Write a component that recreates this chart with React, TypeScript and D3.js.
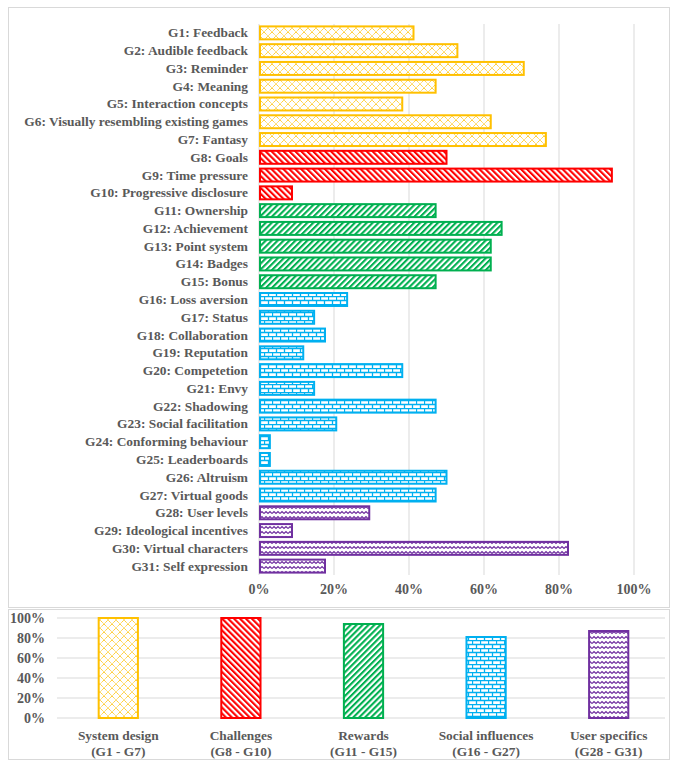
import React, { useEffect } from "react";
import * as d3 from "d3";

// guideline items, top chart
const labels = [
  "G1: Feedback", "G2: Audible feedback", "G3: Reminder", "G4: Meaning",
  "G5: Interaction concepts", "G6: Visually resembling existing games", "G7: Fantasy",
  "G8: Goals", "G9: Time pressure", "G10: Progressive disclosure",
  "G11: Ownership", "G12: Achievement", "G13: Point system", "G14: Badges", "G15: Bonus",
  "G16: Loss aversion", "G17: Status", "G18: Collaboration", "G19: Reputation",
  "G20: Competetion", "G21: Envy", "G22: Shadowing", "G23: Social facilitation",
  "G24: Conforming behaviour", "G25: Leaderboards", "G26: Altruism", "G27: Virtual goods",
  "G28: User levels", "G29: Ideological incentives", "G30: Virtual characters", "G31: Self expression",
];
const values = [
  41.2, 52.9, 70.6, 47.1, 38.2, 61.8, 76.5,
  50.0, 94.1, 8.8,
  47.1, 64.7, 61.8, 61.8, 47.1,
  23.5, 14.7, 17.6, 11.8, 38.2, 14.7, 47.1, 20.6, 2.9, 2.9, 50.0, 47.1,
  29.4, 8.8, 82.4, 17.6,
];
// which group each item belongs to
const groupOf = [
  0, 0, 0, 0, 0, 0, 0,
  1, 1, 1,
  2, 2, 2, 2, 2,
  3, 3, 3, 3, 3, 3, 3, 3, 3, 3, 3, 3,
  4, 4, 4, 4,
];
const xTicks = [0, 20, 40, 60, 80, 100];

// group summary, bottom chart
const groups = ["System design", "Challenges", "Rewards", "Social influences", "User specifics"];
const groupRanges = ["(G1 - G7)", "(G8 - G10)", "(G11 - G15)", "(G16 - G27)", "(G28 - G31)"];
const groupValues = [100, 100, 94, 81, 87];
const yTicks = [0, 20, 40, 60, 80, 100];

const colors = ["#FFC000", "#FF0000", "#00B050", "#00B0F0", "#7030A0"];
const patIds = ["pDiamond", "pDown", "pUp", "pBrick", "pWave"];

const textCol = "#595959";
const gridCol = "#d9d9d9";
const font = "Liberation Serif";

export default function App() {
  useEffect(() => {
    document.body.style.margin = "0";
  }, []);

  const W = 677;
  const H = 767;

  const x = d3.scaleLinear().domain([0, 100]).range([259, 634]);
  const y = d3.scaleBand().domain(labels).range([24, 575]).paddingInner(0.27).paddingOuter(0.135);

  const bx = d3.scaleBand().domain(groups).range([57, 670]).paddingInner(0.68).paddingOuter(0.34);
  const by = d3.scaleLinear().domain([0, 100]).range([718, 618]);

  return (
    <svg width={W} height={H} style={{ display: "block", background: "#fff" }}>
      <defs>
        <pattern id="pDiamond" width="8" height="8" patternUnits="userSpaceOnUse">
          <rect width="8" height="8" fill="#fff" />
          <path d="M0,0 L8,8 M8,0 L0,8" stroke={colors[0]} strokeWidth="0.9" strokeDasharray="1.2,0.6" />
        </pattern>
        <pattern id="pDown" width="4.2" height="4.2" patternUnits="userSpaceOnUse" patternTransform="rotate(-45)">
          <rect width="4.2" height="4.2" fill="#fff" />
          <rect width="2.1" height="4.2" fill={colors[1]} />
        </pattern>
        <pattern id="pUp" width="4.2" height="4.2" patternUnits="userSpaceOnUse" patternTransform="rotate(45)">
          <rect width="4.2" height="4.2" fill="#fff" />
          <rect width="2.1" height="4.2" fill={colors[2]} />
        </pattern>
        <pattern id="pBrick" width="8" height="8" patternUnits="userSpaceOnUse">
          <rect width="8" height="8" fill="#fff" />
          <path d="M0,0.5 H8 M0,4.5 H8 M0.5,0 V4.5 M4.5,4.5 V8" stroke={colors[3]} strokeWidth="1.3" />
        </pattern>
        <pattern id="pWave" width="8" height="5" patternUnits="userSpaceOnUse">
          <rect width="8" height="5" fill="#fff" />
          <path d="M0,3.5 L2,1.5 L4,3.5 L6,1.5 L8,3.5" stroke={colors[4]} strokeWidth="1.2" fill="none" />
        </pattern>
      </defs>

      {/* frames */}
      <rect x={8.5} y={7.5} width={661} height={600} fill="none" stroke={gridCol} />
      <rect x={8.5} y={609.5} width={661} height={150} fill="none" stroke={gridCol} />

      {/* top chart: grid */}
      {xTicks.map((t) => (
        <line key={"g" + t} x1={x(t)} x2={x(t)} y1={24} y2={575} stroke={gridCol} strokeWidth={1} />
      ))}
      {xTicks.map((t) => (
        <text key={"t" + t} x={x(t)} y={594} textAnchor="middle" fontFamily={font} fontWeight="bold"
          fontSize={14} fill={textCol}>{t + "%"}</text>
      ))}

      {/* top chart: bars */}
      {labels.map((l, i) => {
        const g = groupOf[i];
        return (
          <g key={l}>
            <rect x={x(0) + 1} y={y(l)!} width={x(values[i]) - x(0) - 1} height={y.bandwidth()}
              fill={`url(#${patIds[g]})`} stroke={colors[g]} strokeWidth={2} />
            <text x={248} y={y(l)! + y.bandwidth() / 2 + 4.5} textAnchor="end" fontFamily={font}
              fontWeight="bold" fontSize={13.4} fill={textCol}>{l}</text>
          </g>
        );
      })}

      {/* bottom chart: grid */}
      {yTicks.map((t) => (
        <g key={"b" + t}>
          <line x1={57} x2={665} y1={by(t)} y2={by(t)} stroke={gridCol} strokeWidth={1} />
          <text x={45} y={by(t) + 5} textAnchor="end" fontFamily={font} fontWeight="bold"
            fontSize={14} fill={textCol}>{t + "%"}</text>
        </g>
      ))}

      {/* bottom chart: bars */}
      {groups.map((g, i) => (
        <g key={g}>
          <rect x={bx(g)!} y={by(groupValues[i])} width={bx.bandwidth()} height={by(0) - by(groupValues[i])}
            fill={`url(#${patIds[i]})`} stroke={colors[i]} strokeWidth={2} />
          <text x={bx(g)! + bx.bandwidth() / 2} y={740} textAnchor="middle" fontFamily={font}
            fontWeight="bold" fontSize={13.4} fill={textCol}>{g}</text>
          <text x={bx(g)! + bx.bandwidth() / 2} y={756} textAnchor="middle" fontFamily={font}
            fontWeight="bold" fontSize={13.4} fill={textCol}>{groupRanges[i]}</text>
        </g>
      ))}
    </svg>
  );
}
